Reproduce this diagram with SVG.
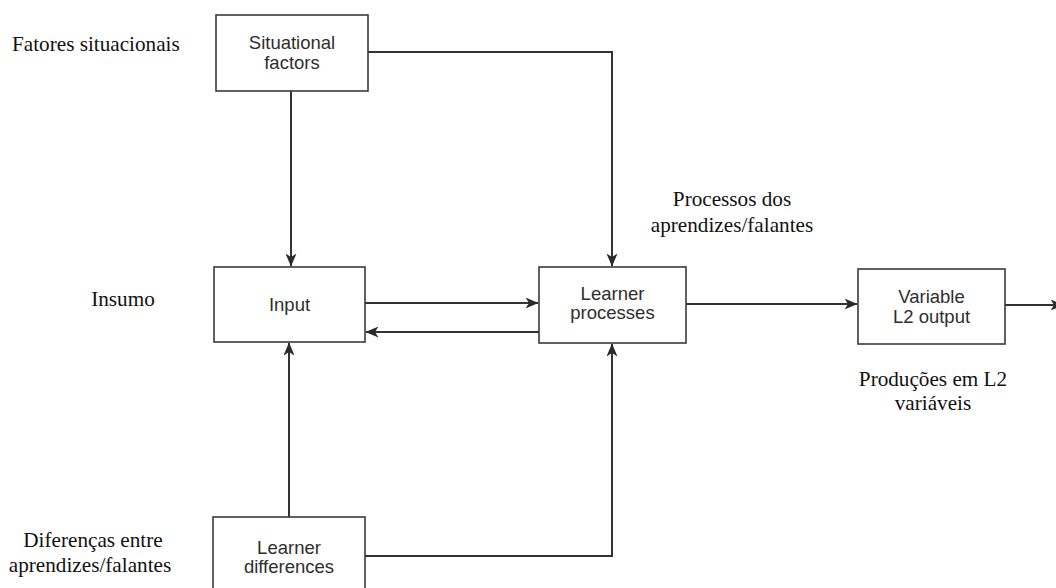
<svg xmlns="http://www.w3.org/2000/svg" width="1056" height="588" viewBox="0 0 1056 588">
  <style>
    .box { fill: #ffffff; stroke: #3a3a3a; stroke-width: 1.6; }
    .btxt { font-family: "Liberation Sans", Arial, sans-serif; font-size: 18.5px; fill: #2e2e2e; text-anchor: middle; }
    .lbl { font-family: "Liberation Serif", "Times New Roman", serif; font-size: 21.2px; fill: #111111; }
    .conn { fill: none; stroke: #333333; stroke-width: 2; }
  </style>
  <defs>
    <marker id="arr" viewBox="0 0 13 11" refX="12.5" refY="5.5" markerWidth="13" markerHeight="11" markerUnits="userSpaceOnUse" orient="auto">
      <path d="M0,0 L13,5.5 L0,11 L3.5,5.5 Z" fill="#2a2a2a"/>
    </marker>
  </defs>
  <rect width="1056" height="588" fill="#ffffff"/>

  <g id="labels">
    <text class="lbl" x="12" y="51">Fatores situacionais</text>
    <text class="lbl" x="123" y="306" text-anchor="middle">Insumo</text>
    <text class="lbl" x="93" y="547" text-anchor="middle">Diferenças entre</text>
    <text class="lbl" x="90" y="572" text-anchor="middle">aprendizes/falantes</text>
    <text class="lbl" x="732" y="206" text-anchor="middle">Processos dos</text>
    <text class="lbl" x="732" y="232" text-anchor="middle">aprendizes/falantes</text>
    <text class="lbl" x="933" y="386" text-anchor="middle">Produções em L2</text>
    <text class="lbl" x="933" y="410" text-anchor="middle">variáveis</text>
  </g>

  <g id="connectors">
    <path class="conn" d="M291,91 L291,266" marker-end="url(#arr)"/>
    <path class="conn" d="M368,52 L612,52 L612,266" marker-end="url(#arr)"/>
    <path class="conn" d="M365,303 L538,303" marker-end="url(#arr)"/>
    <path class="conn" d="M539,332 L366,332" marker-end="url(#arr)"/>
    <path class="conn" d="M686,304 L857,304" marker-end="url(#arr)"/>
    <path class="conn" d="M1005,305 L1063,305" marker-end="url(#arr)"/>
    <path class="conn" d="M289,517 L289,343" marker-end="url(#arr)"/>
    <path class="conn" d="M365,556 L612,556 L612,344" marker-end="url(#arr)"/>
  </g>

  <g id="situational-factors">
    <rect class="box" x="216" y="15" width="152" height="76"/>
    <text class="btxt" x="292" y="49">Situational</text>
    <text class="btxt" x="292" y="69">factors</text>
  </g>
  <g id="input">
    <rect class="box" x="214" y="267" width="151" height="75"/>
    <text class="btxt" x="289.5" y="311">Input</text>
  </g>
  <g id="learner-processes">
    <rect class="box" x="539" y="267" width="147" height="76"/>
    <text class="btxt" x="612.5" y="300">Learner</text>
    <text class="btxt" x="612.5" y="319">processes</text>
  </g>
  <g id="variable-l2-output">
    <rect class="box" x="858" y="269" width="147" height="75"/>
    <text class="btxt" x="931.5" y="303">Variable</text>
    <text class="btxt" x="931.5" y="323">L2 output</text>
  </g>
  <g id="learner-differences">
    <rect class="box" x="213" y="517" width="152" height="80"/>
    <text class="btxt" x="289" y="554">Learner</text>
    <text class="btxt" x="289" y="573">differences</text>
  </g>
</svg>
